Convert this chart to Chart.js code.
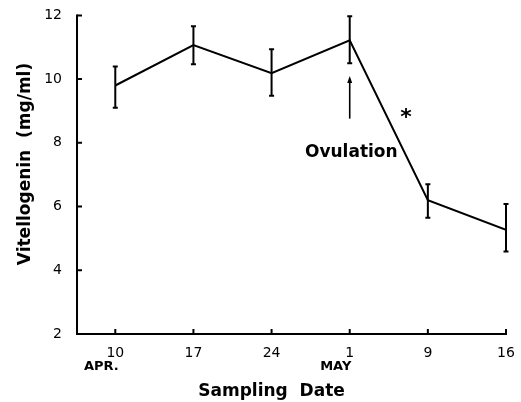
<!DOCTYPE html>
<html>
<head>
<meta charset="utf-8">
<script src="https://cdn.jsdelivr.net/npm/chart.js@4/dist/chart.umd.min.js"></script>
<style>
  html, body { margin: 0; padding: 0; background: #fff; }
  #wrap { width: 521px; height: 402px; }
</style>
</head>
<body>
<div id="wrap"><canvas id="vtgChart" width="521" height="402"></canvas></div>
<script>
// data
const dateLabels = ["10", "17", "24", "1", "9", "16"];
const monthLabels = ["APR.", "", "", "MAY", "", ""];
const vtgMean = [9.8, 11.07, 10.19, 11.22, 6.2, 5.27];
const vtgHigh = [10.4, 11.66, 10.94, 11.97, 6.7, 6.08];
const vtgLow = [9.1, 10.47, 9.48, 10.5, 5.65, 4.59];
const yTicks = [2, 4, 6, 8, 10, 12];

// ovulation arrow (x index, y from/to) and star position
const ovulationArrow = { x: 3, yFrom: 8.76, yTo: 10.1 };
const ovulationText = { x: 3.02, y: 7.7, text: "Ovulation" };
const starMark = { x: 3.72, y: 8.85, text: "*" };

const FONT = "'DejaVu Sans', sans-serif";

// error bars, arrow and labels inside the plot
const annotatePlugin = {
    id: "annotate",
    afterDatasetsDraw(chart) {
        const ctx = chart.ctx;
        const xs = chart.scales.x;
        const ys = chart.scales.y;
        ctx.save();
        ctx.strokeStyle = "#000";
        ctx.fillStyle = "#000";
        ctx.lineWidth = 2;

        // error bars
        vtgMean.forEach((v, i) => {
            const px = xs.getPixelForValue(i);
            const top = ys.getPixelForValue(vtgHigh[i]);
            const bot = ys.getPixelForValue(vtgLow[i]);
            ctx.beginPath();
            ctx.moveTo(px, top);
            ctx.lineTo(px, bot);
            ctx.moveTo(px - 2.5, top);
            ctx.lineTo(px + 2.5, top);
            ctx.moveTo(px - 2.5, bot);
            ctx.lineTo(px + 2.5, bot);
            ctx.stroke();
        });

        // arrow
        const ax = xs.getPixelForValue(ovulationArrow.x);
        const ay1 = ys.getPixelForValue(ovulationArrow.yFrom);
        const ay2 = ys.getPixelForValue(ovulationArrow.yTo);
        ctx.lineWidth = 1.6;
        ctx.beginPath();
        ctx.moveTo(ax, ay1);
        ctx.lineTo(ax, ay2 + 4);
        ctx.stroke();
        ctx.beginPath();
        ctx.moveTo(ax, ay2);
        ctx.lineTo(ax - 2.5, ay2 + 7);
        ctx.lineTo(ax + 2.5, ay2 + 7);
        ctx.closePath();
        ctx.fill();

        // texts
        ctx.textAlign = "center";
        ctx.textBaseline = "middle";
        ctx.font = "bold 17px " + FONT;
        ctx.fillText(ovulationText.text, xs.getPixelForValue(ovulationText.x), ys.getPixelForValue(ovulationText.y));
        ctx.font = "bold 22px " + FONT;
        ctx.fillText(starMark.text, xs.getPixelForValue(starMark.x), ys.getPixelForValue(starMark.y) + 3);
        ctx.restore();
    },
    afterDraw(chart) {
        const ctx = chart.ctx;
        const xs = chart.scales.x;
        const ys = chart.scales.y;
        const area = chart.chartArea;
        ctx.save();
        ctx.strokeStyle = "#000";
        ctx.fillStyle = "#000";
        ctx.lineWidth = 2;
        ctx.lineCap = "square";

        // axis lines
        const yTop = ys.getPixelForValue(12);
        ctx.beginPath();
        ctx.moveTo(area.left, yTop);
        ctx.lineTo(area.left, area.bottom);
        ctx.lineTo(area.right, area.bottom);
        ctx.stroke();

        // inward tick marks
        ctx.lineCap = "butt";
        ctx.beginPath();
        yTicks.forEach((t) => {
            const py = ys.getPixelForValue(t);
            ctx.moveTo(area.left, py);
            ctx.lineTo(area.left + 5, py);
        });
        dateLabels.forEach((_, i) => {
            const px = xs.getPixelForValue(i);
            ctx.moveTo(px, area.bottom);
            ctx.lineTo(px, area.bottom - 5);
        });
        ctx.stroke();

        // month names under the dates
        ctx.font = "bold 13px " + FONT;
        ctx.textAlign = "center";
        ctx.textBaseline = "alphabetic";
        monthLabels.forEach((m, i) => {
            if (m) ctx.fillText(m, xs.getPixelForValue(i) - 14, 370);
        });

        // axis titles
        ctx.font = "bold 17px " + FONT;
        ctx.fillText("Sampling  Date", (area.left + area.right) / 2 - 20, 396);

        ctx.translate(30, 164);
        ctx.rotate(-Math.PI / 2);
        ctx.fillText("Vitellogenin  (mg/ml)", 0, 0);
        ctx.restore();
    }
};

const ctx = document.getElementById("vtgChart").getContext("2d");
const chartInstance = new Chart(ctx, {
    type: "line",
    data: {
        datasets: [{
            data: vtgMean.map((v, i) => ({ x: i, y: v })),
            borderColor: "#000",
            borderWidth: 2,
            pointRadius: 0,
            tension: 0,
            fill: false,
        }],
    },
    options: {
        responsive: false,
        animation: false,
        layout: { padding: { top: 15, right: 15, left: 0, bottom: 0 } },
        plugins: {
            legend: { display: false },
            tooltip: { enabled: false },
        },
        scales: {
            x: {
                type: "linear",
                min: -0.49,
                max: 5,
                grid: { display: false },
                border: { display: false },
                afterBuildTicks: (scale) => {
                    scale.ticks = dateLabels.map((_, i) => ({ value: i }));
                },
                afterFit: (scale) => { scale.height = 68; },
                ticks: {
                    autoSkip: false,
                    maxRotation: 0,
                    padding: 3,
                    color: "#000",
                    font: { family: FONT, size: 14 },
                    callback: (v) => dateLabels[v] ?? "",
                },
            },
            y: {
                min: 2,
                max: 12,
                grid: { display: false },
                border: { display: false },
                afterBuildTicks: (scale) => {
                    scale.ticks = yTicks.map((t) => ({ value: t }));
                },
                afterFit: (scale) => { scale.width = 77; },
                ticks: {
                    padding: 7,
                    color: "#000",
                    font: { family: FONT, size: 14 },
                },
            },
        },
    },
    plugins: [annotatePlugin],
});
</script>
</body>
</html>
